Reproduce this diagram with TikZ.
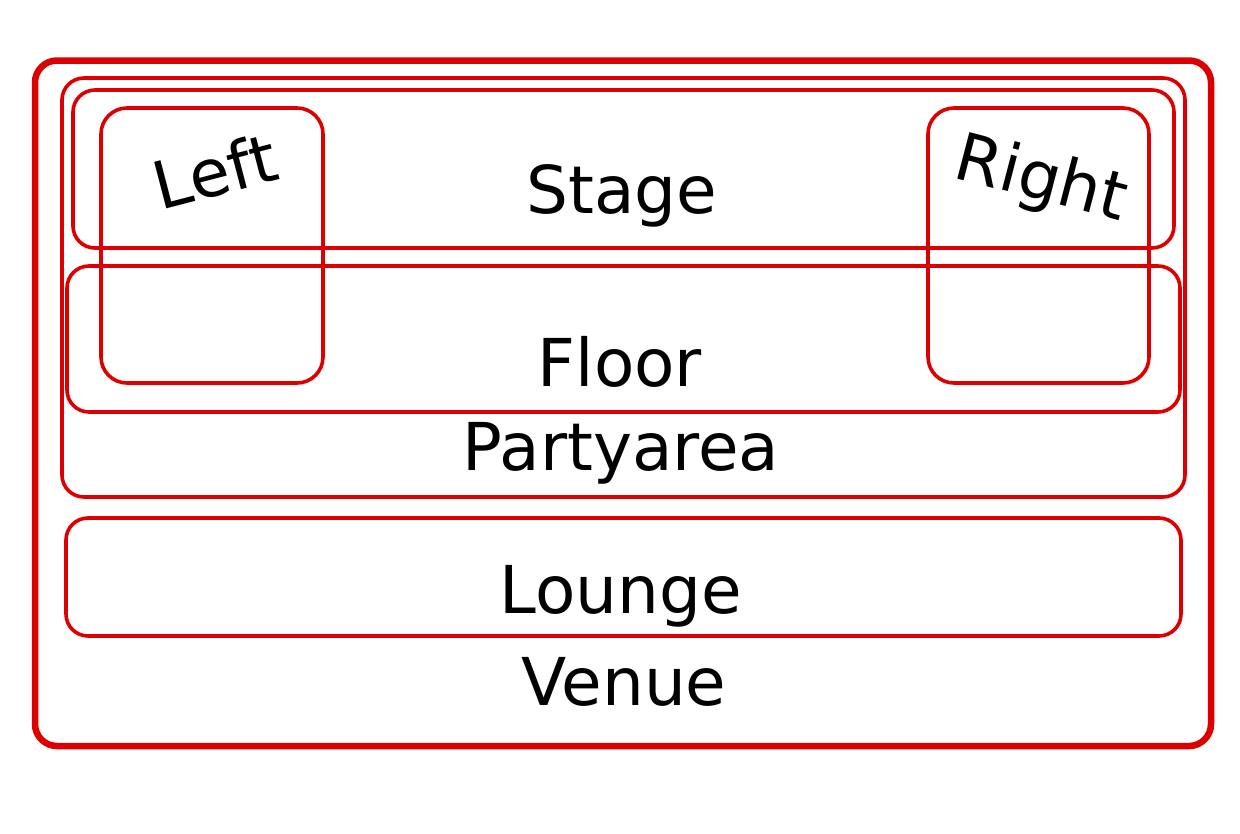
\documentclass[tikz,border=0pt]{standalone}
\usepackage{fontspec}
\setmainfont{DejaVu Sans}
\definecolor{boxred}{RGB}{221,0,0}
\begin{document}
\begin{tikzpicture}[x=1pt,y=-1pt,
  area/.style={draw=boxred,line width=3.6pt,rounded corners=22pt},
  outer/.style={draw=boxred,line width=6.5pt,rounded corners=22pt},
  lab/.style={inner sep=0pt,anchor=base,font=\fontsize{66}{78}\selectfont}]
\useasboundingbox (0,0) rectangle (1240,833);
\fill[white] (0,0) rectangle (1240,833);
% Venue
\draw[outer] (35,60.5) rectangle (1211,746);
% Partyarea
\draw[area] (62,78) rectangle (1185,497);
% Stage
\draw[area] (73,90) rectangle (1174,248);
% Floor
\draw[area] (67,266) rectangle (1180,412);
% Lounge
\draw[area] (66,518) rectangle (1181,636);
% Left / Right
\draw[area,rounded corners=26pt] (101,108) rectangle (323,383);
\draw[area,rounded corners=26pt] (928,108) rectangle (1149,383);
% labels
\node[lab] (stage) at (622,213) {Stage};
\node[lab] (floor) at (620,386) {Floor};
\node[lab] (party) at (621,470) {Partyarea};
\node[lab] (lounge) at (621,613) {Lounge};
\node[lab] (venue) at (624,705) {Venue};
\node[lab,rotate=14.6] (left) at (221,195) {Left};
\node[lab,rotate=-14.6] (right) at (1036,199) {Right};
\end{tikzpicture}
\end{document}
